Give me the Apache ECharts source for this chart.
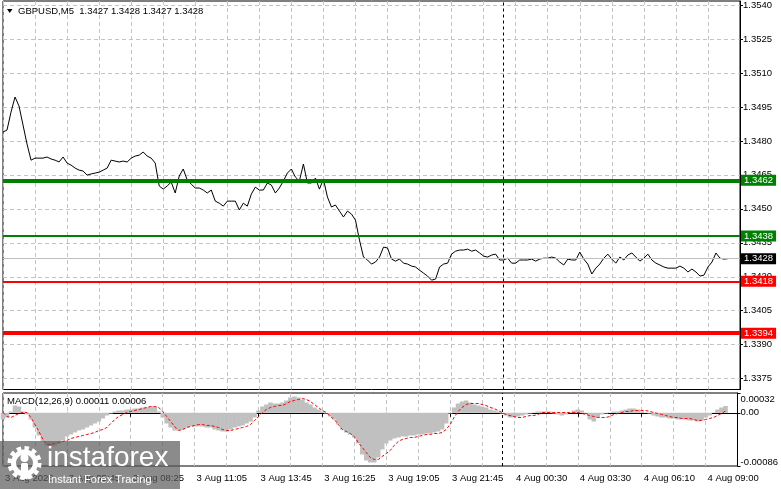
<!DOCTYPE html>
<html><head><meta charset="utf-8">
<script src="https://cdn.jsdelivr.net/npm/echarts@6/dist/echarts.min.js"></script>
<style>html,body{margin:0;padding:0;background:#fff}#c{width:781px;height:489px}</style>
</head><body><div id="c"></div>
<script>
// ---------------- data ----------------
const symbolName = 'GBPUSD,M5';
const ohlc = ['1.3427', '1.3428', '1.3427', '1.3428'];
const timeLabels = ['3 Aug 2026','3 Aug 05:45','3 Aug 08:25','3 Aug 11:05','3 Aug 13:45','3 Aug 16:25','3 Aug 19:05','3 Aug 21:45','4 Aug 00:30','4 Aug 03:30','4 Aug 06:10','4 Aug 09:00'];
const labelEvery = 16;
const slotCount = 185;
const closes = [
1.34839,1.34848,1.34927,1.34994,1.34954,1.34870,1.34786,1.34715,1.34724,1.34724,
1.34724,1.34729,1.34720,1.34715,1.34707,1.34729,1.34702,1.34693,1.34680,1.34671,
1.34667,1.34649,1.34654,1.34658,1.34662,1.34671,1.34680,1.34715,1.34711,1.34707,
1.34711,1.34707,1.34724,1.34733,1.34737,1.34751,1.34733,1.34724,1.34702,1.34601,
1.34587,1.34601,1.34618,1.34570,1.34645,1.34676,1.34627,1.34609,1.34592,1.34592,
1.34583,1.34570,1.34583,1.34534,1.34525,1.34512,1.34534,1.34534,1.34534,1.34495,
1.34525,1.34512,1.34565,1.34596,1.34583,1.34583,1.34614,1.34605,1.34570,1.34592,
1.34623,1.34658,1.34676,1.34640,1.34623,1.34698,1.34614,1.34614,1.34636,1.34587,
1.34631,1.34552,1.34508,1.34517,1.34490,1.34464,1.34490,1.34477,1.34450,1.34362,
1.34287,1.34274,1.34256,1.34265,1.34287,1.34331,1.34327,1.34278,1.34269,1.34278,
1.34260,1.34256,1.34247,1.34243,1.34229,1.34216,1.34203,1.34185,1.34190,1.34243,
1.34256,1.34260,1.34300,1.34313,1.34318,1.34318,1.34322,1.34313,1.34318,1.34305,
1.34291,1.34287,1.34296,1.34300,1.34274,1.34274,1.34282,1.34260,1.34260,1.34274,
1.34274,1.34274,1.34278,1.34269,1.34278,1.34282,1.34282,1.34287,1.34282,1.34265,
1.34252,1.34278,1.34274,1.34274,1.34309,1.34278,1.34256,1.34212,1.34238,1.34256,
1.34282,1.34300,1.34278,1.34260,1.34287,1.34274,1.34296,1.34305,1.34287,1.34269,
1.34282,1.34300,1.34274,1.34260,1.34252,1.34243,1.34238,1.34238,1.34238,1.34247,
1.34238,1.34221,1.34234,1.34221,1.34203,1.34207,1.34243,1.34265,1.34305,1.34282,
1.34278,1.34280];
const macdMain = [
-0.000108,-0.000076,0.000021,0.000118,0.000102,0.000021,-0.000027,-0.000108,-0.000238,-0.000367,
-0.000464,-0.000528,-0.000545,-0.000528,-0.000496,-0.000448,-0.000383,-0.000351,-0.000318,-0.000286,
-0.000270,-0.000238,-0.000205,-0.000173,-0.000141,-0.000092,-0.000044,-0.000011,0.000021,0.000037,
0.000037,0.000053,0.000053,0.000069,0.000069,0.000086,0.000086,0.000102,0.000102,0.000021,
-0.000076,-0.000173,-0.000238,-0.000286,-0.000286,-0.000270,-0.000238,-0.000221,-0.000221,-0.000221,
-0.000221,-0.000238,-0.000238,-0.000270,-0.000286,-0.000302,-0.000302,-0.000270,-0.000238,-0.000221,
-0.000205,-0.000173,-0.000141,-0.000076,0.000037,0.000102,0.000134,0.000166,0.000150,0.000150,
0.000166,0.000199,0.000247,0.000263,0.000247,0.000215,0.000166,0.000134,0.000086,0.000053,
0.000021,-0.000011,-0.000060,-0.000108,-0.000189,-0.000270,-0.000318,-0.000351,-0.000399,-0.000496,
-0.000674,-0.000771,-0.000803,-0.000803,-0.000722,-0.000593,-0.000496,-0.000448,-0.000415,-0.000399,
-0.000383,-0.000383,-0.000367,-0.000367,-0.000351,-0.000351,-0.000335,-0.000335,-0.000318,-0.000302,
-0.000270,-0.000173,-0.000011,0.000086,0.000150,0.000183,0.000199,0.000166,0.000134,0.000118,
0.000102,0.000086,0.000053,0.000037,0.000021,-0.000011,-0.000044,-0.000076,-0.000076,-0.000060,
-0.000044,-0.000027,-0.000011,0.000005,0.000021,0.000021,0.000021,0.000021,-0.000011,-0.000027,
-0.000044,-0.000027,0.000005,0.000037,0.000053,0.000037,-0.000011,-0.000108,-0.000141,-0.000076,
-0.000027,-0.000011,0.000005,0.000021,0.000021,0.000037,0.000053,0.000069,0.000069,0.000053,
0.000021,0.000005,-0.000011,-0.000044,-0.000060,-0.000076,-0.000076,-0.000092,-0.000092,-0.000108,
-0.000108,-0.000108,-0.000124,-0.000124,-0.000141,-0.000124,-0.000076,-0.000044,0.000005,0.000053,
0.000086,0.000110];
const macdSignal = [
0.000005,-0.000060,-0.000076,-0.000044,-0.000011,0.000005,0.000005,-0.000076,-0.000189,-0.000302,
-0.000431,-0.000512,-0.000512,-0.000496,-0.000480,-0.000464,-0.000448,-0.000415,-0.000399,-0.000383,
-0.000367,-0.000351,-0.000335,-0.000318,-0.000286,-0.000270,-0.000238,-0.000173,-0.000108,-0.000060,
-0.000027,0.000005,0.000021,0.000037,0.000053,0.000069,0.000086,0.000102,0.000102,0.000086,
0.000021,-0.000060,-0.000141,-0.000221,-0.000286,-0.000270,-0.000238,-0.000221,-0.000205,-0.000189,
-0.000189,-0.000205,-0.000205,-0.000221,-0.000238,-0.000270,-0.000286,-0.000286,-0.000270,-0.000254,
-0.000238,-0.000221,-0.000189,-0.000124,-0.000060,0.000005,0.000053,0.000086,0.000102,0.000118,
0.000118,0.000150,0.000183,0.000199,0.000215,0.000231,0.000215,0.000183,0.000134,0.000086,
0.000037,0.000005,-0.000060,-0.000108,-0.000189,-0.000270,-0.000302,-0.000335,-0.000383,-0.000480,
-0.000561,-0.000642,-0.000722,-0.000755,-0.000755,-0.000706,-0.000658,-0.000609,-0.000528,-0.000464,
-0.000431,-0.000415,-0.000399,-0.000399,-0.000383,-0.000367,-0.000351,-0.000351,-0.000335,-0.000335,
-0.000318,-0.000270,-0.000189,-0.000076,0.000021,0.000086,0.000134,0.000150,0.000150,0.000150,
0.000134,0.000118,0.000086,0.000069,0.000037,0.000005,-0.000027,-0.000044,-0.000060,-0.000076,
-0.000076,-0.000060,-0.000044,-0.000044,-0.000027,0.000005,0.000005,0.000005,0.000005,0.000005,
0.000005,0.000005,0.000005,0.000005,0.000005,-0.000011,-0.000027,-0.000044,-0.000060,-0.000076,
-0.000076,-0.000076,-0.000060,-0.000027,-0.000011,0.000005,0.000021,0.000021,0.000037,0.000037,
0.000037,0.000037,0.000021,0.000005,-0.000011,-0.000027,-0.000044,-0.000060,-0.000076,-0.000076,
-0.000092,-0.000092,-0.000092,-0.000108,-0.000124,-0.000124,-0.000108,-0.000092,-0.000076,-0.000044,
-0.000011,0.000030];
const macdTitle = 'MACD(12,26,9)';
const macdLast = ['0.00011', '0.00006'];
const priceTicks = [1.3375,1.3390,1.3405,1.3420,1.3435,1.3450,1.3465,1.3480,1.3495,1.3510,1.3525,1.3540];
const macdTicks = [0.00032, 0, -0.00086];
const macdTickLabels = ['0.00032', '0.00', '-0.00086'];
const levelValues = [1.34626, 1.3438, 1.3418, 1.33951];
const levelLabels = ['1.3462', '1.3438', '1.3418', '1.3394'];
const bidValue = 1.3428;
const bidLabel = '1.3428';
const separatorIndex = 125;
const watermarkTitle = 'instaforex';
const watermarkSub = 'Instant Forex Tracing';

// ---------------- styles / options ----------------
const FONT = '"Liberation Sans", Arial, sans-serif';
const FS = 9.5;
const levelColors = ['#008000', '#008000', '#ff0000', '#ff0000'];
const levelWidths = [4, 2, 2, 4];
const cats = Array.from({length: slotCount}, (_, i) => 't' + i);
const gridLine = {color: '#c4c4c4', type: [4, 3], width: 1};
const labelBox = (text, bg) => ({show: true, position: 'end', distance: 1, formatter: text, color: '#fff',
  backgroundColor: bg, padding: [1, 3, 0, 3], fontSize: FS, fontFamily: FONT});

const hLines = [{yAxis: bidValue, lineStyle: {color: '#c0c0c0', width: 1, type: 'solid'}, label: labelBox(bidLabel, '#000')}]
  .concat(levelValues.map((v, i) => ({yAxis: v,
    lineStyle: {color: levelColors[i], width: levelWidths[i], type: 'solid'},
    label: labelBox(levelLabels[i], levelColors[i])})));

const chart = echarts.init(document.getElementById('c'), null, {renderer: 'canvas'});
const option = {
  animation: false,
  backgroundColor: '#fff',
  grid: [
    {left: 3, right: 41, top: 1, bottom: 99.5, show: true, borderColor: '#000', borderWidth: 1, backgroundColor: 'transparent'},
    {left: 3, right: 41, top: 393, bottom: 23, show: true, borderColor: '#000', borderWidth: 1, backgroundColor: 'transparent'}
  ],
  xAxis: [
    {type: 'category', gridIndex: 0, data: cats, boundaryGap: false,
     axisLine: {show: false}, axisTick: {show: false}, axisLabel: {show: false},
     splitLine: {show: true, interval: 7, lineStyle: gridLine}},
    {type: 'category', gridIndex: 1, data: cats, boundaryGap: false,
     axisLine: {show: true, lineStyle: {color: '#000'}},
     axisTick: {show: true, interval: labelEvery - 1, length: 4, lineStyle: {color: '#000'}},
     axisLabel: {show: true, interval: labelEvery - 1, align: 'left', margin: 7, color: '#000',
       fontSize: FS, fontFamily: FONT, padding: [0, 0, 0, 2],
       formatter: (v, i) => (i % labelEvery === 0 && timeLabels[i / labelEvery]) ? timeLabels[i / labelEvery] : ''},
     splitLine: {show: true, interval: 7, lineStyle: gridLine}}
  ],
  yAxis: [
    {type: 'value', gridIndex: 0, position: 'right', min: 1.33702, max: 1.35418,
     axisLine: {show: true, lineStyle: {color: '#000'}},
     axisTick: {show: true, length: 3, customValues: priceTicks, lineStyle: {color: '#000'}},
     axisLabel: {customValues: priceTicks, formatter: v => v.toFixed(4), margin: 3, color: '#000', fontSize: FS, fontFamily: FONT},
     splitLine: {show: true, lineStyle: gridLine}},
    {type: 'value', gridIndex: 1, position: 'right', min: -0.00086, max: 0.00032,
     axisLine: {show: true, lineStyle: {color: '#000'}},
     axisTick: {show: true, length: 3, customValues: macdTicks, lineStyle: {color: '#000'}},
     axisLabel: {customValues: macdTicks, margin: 3, color: '#000', fontSize: FS, fontFamily: FONT,
       formatter: v => {
         const i = macdTicks.findIndex(t => Math.abs(t - v) < 1e-9);
         const txt = i >= 0 ? macdTickLabels[i] : '';
         return i === 0 ? '{top|' + txt + '}' : (i === 2 ? '{bot|' + txt + '}' : '{mid|' + txt + '}');
       },
       rich: {
         top: {padding: [12, 0, 0, 0], fontSize: FS, fontFamily: FONT, color: '#000'},
         mid: {fontSize: FS, fontFamily: FONT, color: '#000'},
         bot: {padding: [0, 0, 8, 0], fontSize: FS, fontFamily: FONT, color: '#000'}
       }},
     splitLine: {show: false}}
  ],
  series: [
    {name: 'price', type: 'line', xAxisIndex: 0, yAxisIndex: 0, data: closes, symbol: 'none', z: 3,
     lineStyle: {color: '#000', width: 1},
     markLine: {silent: true, symbol: ['none', 'none'], animation: false, precision: 5,
       data: hLines.concat([{xAxis: separatorIndex, lineStyle: {color: '#000', width: 1, type: [3, 3]}, label: {show: false}}])}},
    {name: 'macd', type: 'bar', xAxisIndex: 1, yAxisIndex: 1, data: macdMain, barWidth: 4.6, z: 2,
     itemStyle: {color: '#c0c0c0'}},
    {name: 'signal', type: 'line', xAxisIndex: 1, yAxisIndex: 1, data: macdSignal, symbol: 'none', z: 3,
     lineStyle: {color: '#ff0000', width: 1, type: [3, 2]},
     markLine: {silent: true, symbol: ['none', 'none'], animation: false, label: {show: false},
       data: [{xAxis: separatorIndex}], lineStyle: {color: '#000', width: 1, type: [3, 3]}}}
  ],
  graphic: [
    {type: 'polygon', shape: {points: [[7, 9], [12.5, 9], [9.75, 13]]}, style: {fill: '#000'}, z: 50},
    {type: 'text', z: 50, style: {x: 18, y: 11, verticalAlign: 'middle', text: symbolName + '  ' + ohlc.join(' '),
      fill: '#000', font: FS + 'px ' + FONT}},
    {type: 'text', z: 50, style: {x: 7, y: 401.5, verticalAlign: 'middle', text: macdTitle + ' ' + macdLast.join(' '),
      fill: '#000', font: FS + 'px ' + FONT}},
    {type: 'rect', z: 100, shape: {x: 0, y: 441, width: 180, height: 48}, style: {fill: 'rgba(90,90,90,0.70)'}},
    {type: 'circle', z: 101, shape: {cx: 24.5, cy: 463, r: 15}, style: {fill: 'none', stroke: '#fff', lineWidth: 4, lineDash: [4.5, 3.3]}},
    {type: 'circle', z: 101, shape: {cx: 24.5, cy: 463, r: 11}, style: {fill: 'none', stroke: '#fff', lineWidth: 5}},
    {type: 'circle', z: 101, shape: {cx: 24.5, cy: 458, r: 4}, style: {fill: '#fff'}},
    {type: 'rect', z: 101, shape: {x: 21, y: 463, width: 7, height: 16, r: 1.5}, style: {fill: '#fff'}},
    {type: 'text', z: 101, style: {x: 47, y: 458.5, verticalAlign: 'middle', text: watermarkTitle, fill: '#fff',
      font: '28px ' + FONT}},
    {type: 'text', z: 101, style: {x: 48, y: 480, verticalAlign: 'middle', text: watermarkSub, fill: '#fff',
      font: '11px ' + FONT}}
  ]
};
chart.setOption(option);
</script>
</body></html>
